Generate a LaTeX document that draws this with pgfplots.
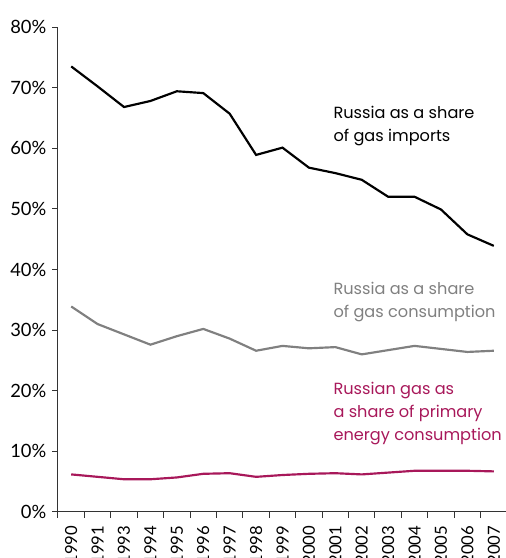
\documentclass[border=0pt]{standalone}
\usepackage{pgfplots}
\pgfplotsset{compat=1.18}
\usepackage{fontspec}
\setmainfont{Poppins}
\newfontfamily\tickfont{Lato}
\definecolor{rusred}{HTML}{A8185A}
\definecolor{rusgrey}{HTML}{808080}

\begin{document}
\begin{tikzpicture}
\begin{axis}[
  scale only axis,width=269.4pt,height=291pt,
  xmin=-0.5,xmax=16.5,ymin=0,ymax=80,
  axis lines=left,axis line style={-,draw=black!80,line width=0.6pt},
  xtick={-0.5,0.5,...,16.5},
  x tick label as interval,
  xticklabels={1990,1991,1993,1994,1995,1996,1997,1998,1999,2000,2001,2002,2003,2004,2005,2006,2007},
  xticklabel style={rotate=90,anchor=east,font=\tickfont\fontsize{10}{12}\selectfont,inner sep=0pt},
  ytick={0,10,...,80},
  yticklabel={\pgfmathprintnumber{\tick}\%},
  yticklabel style={font=\tickfont\fontsize{11}{12}\selectfont},
  /pgf/number format/assume math mode=true,
  tick align=outside,major tick length=3.5pt,
  tick style={draw=black!80,line width=0.6pt},
  xtick pos=bottom,ytick pos=left,
  xticklabel shift=4.5pt,
  clip=false,
]
% Russia as a share of gas imports
\addplot[black,line width=1.3pt] coordinates {
  (0,73.5) (1,70.2) (2,66.8) (3,67.8) (4,69.4) (5,69.1) (6,65.7) (7,58.9)
  (8,60.1) (9,56.8) (10,55.9) (11,54.8) (12,52.0) (13,52.0) (14,49.9) (15,45.8) (16,43.9)
};
% Russia as a share of gas consumption
\addplot[rusgrey,line width=1.3pt] coordinates {
  (0,33.9) (1,31.0) (2,29.3) (3,27.6) (4,29.0) (5,30.2) (6,28.6) (7,26.6)
  (8,27.4) (9,27.0) (10,27.2) (11,26.0) (12,26.7) (13,27.4) (14,26.9) (15,26.4) (16,26.6)
};
% Russian gas as a share of primary energy consumption
\addplot[rusred,line width=1.3pt] coordinates {
  (0,6.2) (1,5.8) (2,5.4) (3,5.4) (4,5.7) (5,6.3) (6,6.4) (7,5.8)
  (8,6.1) (9,6.3) (10,6.4) (11,6.2) (12,6.5) (13,6.8) (14,6.8) (15,6.8) (16,6.7)
};
\node[anchor=west,align=left,font=\fontsize{9.7}{13.8}\selectfont,inner sep=0pt] at (axis cs:9.92,63.6) {Russia as a share\\of gas imports};
\node[anchor=west,align=left,font=\fontsize{9.7}{13.8}\selectfont,inner sep=0pt,text=rusgrey] at (axis cs:9.92,34.7) {Russia as a share\\of gas consumption};
\node[anchor=west,align=left,font=\fontsize{9.7}{13.8}\selectfont,inner sep=0pt,text=rusred] at (axis cs:9.92,16.3) {Russian gas as\\a share of primary\\energy consumption};
\end{axis}
\pgfresetboundingbox
\path[use as bounding box] ([shift={(-34.8pt,-27.6pt)}]current axis.south west) rectangle ++(303pt,334.8pt);
\end{tikzpicture}
\end{document}
